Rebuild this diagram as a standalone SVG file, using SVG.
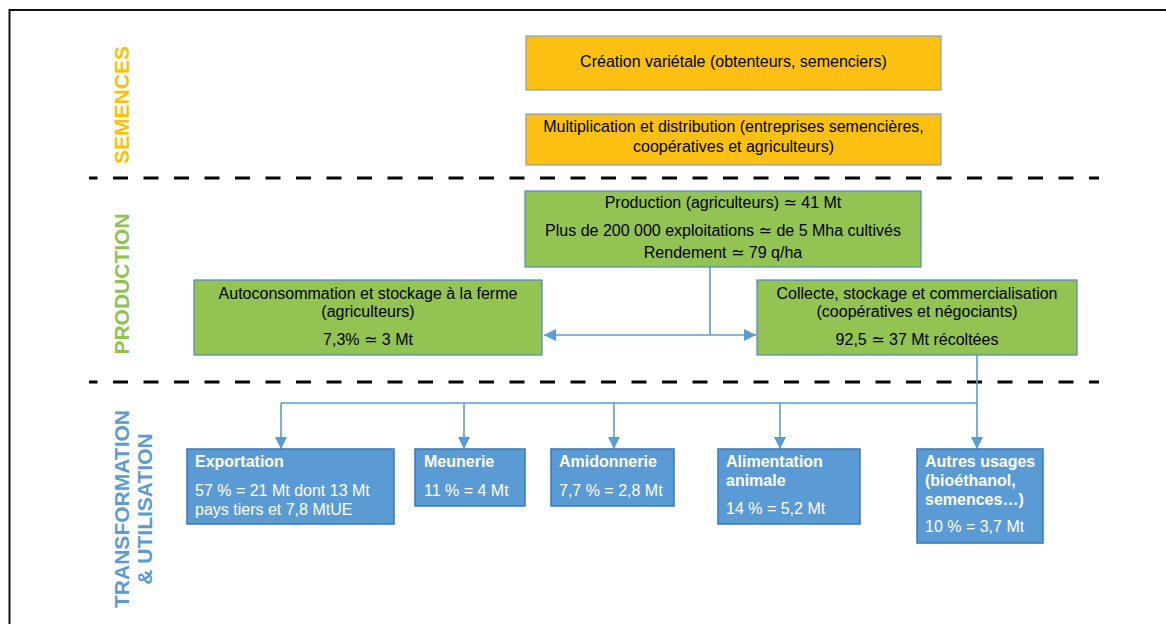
<svg xmlns="http://www.w3.org/2000/svg" width="1166" height="624" viewBox="0 0 1166 624">
<defs>
<style>
.t{font-family:"Liberation Sans",Arial,"DejaVu Sans",sans-serif;font-size:16px;fill:#000}
.c{text-anchor:middle}
.w{fill:#fff}
.b{font-weight:bold}
.lab{font-family:"Liberation Sans",Arial,sans-serif;font-size:21px;font-weight:bold;text-anchor:middle}
.or{fill:#FBC012;stroke:#7FA3C8;stroke-width:1.2}
.gr{fill:#93C353;stroke:#4F87C2;stroke-width:1.2}
.bl{fill:#5B9BD5;stroke:#3A78B8;stroke-width:1.5}
.dash{stroke:#000;stroke-width:3;stroke-dasharray:15 15.5;stroke-dashoffset:6.5;fill:none}
.con{stroke:#5B9BD5;stroke-width:1.6;fill:none}
</style>
<marker id="ar" viewBox="0 0 10 10" refX="10" refY="5" markerWidth="12" markerHeight="12" markerUnits="userSpaceOnUse" orient="auto">
<path d="M0,0 L10,5 L0,10 z" fill="#5B9BD5"/>
</marker>
</defs>
<rect x="0" y="0" width="1166" height="624" fill="#fff"/>
<rect x="9.5" y="10" width="1200" height="700" fill="none" stroke="#111" stroke-width="2"/>

<g id="labels">
<text class="lab" fill="#FFC000" transform="translate(129,105) rotate(-90)">SEMENCES</text>
<text class="lab" fill="#8DC450" transform="translate(128.5,284) rotate(-90)">PRODUCTION</text>
<text class="lab" fill="#5B9BD5" transform="translate(128.5,509) rotate(-90)">TRANSFORMATION</text>
<text class="lab" fill="#5B9BD5" transform="translate(151.5,509) rotate(-90)">&amp; UTILISATION</text>
</g>

<g id="separators">
<line class="dash" x1="89" y1="178" x2="1099" y2="178"/>
<line class="dash" x1="89" y1="382" x2="1099" y2="382"/>
</g>

<g id="connectors">
<path class="con" d="M710,267 V335"/>
<path class="con" d="M710,335 H544" marker-end="url(#ar)"/>
<path class="con" d="M710,335 H756" marker-end="url(#ar)"/>
<path class="con" d="M977,355 V449" marker-end="url(#ar)"/>
<path class="con" d="M281,403 H977"/>
<path class="con" d="M281,403 V449" marker-end="url(#ar)"/>
<path class="con" d="M464,403 V449" marker-end="url(#ar)"/>
<path class="con" d="M614,403 V449" marker-end="url(#ar)"/>
<path class="con" d="M780,403 V449" marker-end="url(#ar)"/>
</g>

<g id="creation">
<rect class="or" x="526" y="36" width="415" height="54"/>
<text class="t c" x="733.5" y="67">Création variétale (obtenteurs, semenciers)</text>
</g>
<g id="multiplication">
<rect class="or" x="526" y="114" width="415" height="51"/>
<text class="t c" x="733.5" y="132">Multiplication et distribution (entreprises semencières,</text>
<text class="t c" x="733.5" y="152">coopératives et agriculteurs)</text>
</g>

<g id="production">
<rect class="gr" x="525" y="191" width="396" height="76"/>
<text class="t c" x="723" y="208">Production (agriculteurs) ≃ 41 Mt</text>
<text class="t c" x="723" y="236">Plus de 200 000 exploitations ≃ de 5 Mha cultivés</text>
<text class="t c" x="723" y="258">Rendement ≃ 79 q/ha</text>
</g>
<g id="autoconsommation">
<rect class="gr" x="194" y="280" width="348" height="75"/>
<text class="t c" x="368" y="299">Autoconsommation et stockage à la ferme</text>
<text class="t c" x="368" y="317">(agriculteurs)</text>
<text class="t c" x="368" y="345">7,3% ≃ 3 Mt</text>
</g>
<g id="collecte">
<rect class="gr" x="757" y="280" width="320" height="75"/>
<text class="t c" x="917" y="299">Collecte, stockage et commercialisation</text>
<text class="t c" x="917" y="317">(coopératives et négociants)</text>
<text class="t c" x="917" y="345">92,5 ≃ 37 Mt récoltées</text>
</g>

<g id="exportation">
<rect class="bl" x="187" y="449" width="207" height="75"/>
<text class="t w b" x="195" y="467">Exportation</text>
<text class="t w" x="195" y="496">57 % = 21 Mt dont 13 Mt</text>
<text class="t w" x="195" y="515">pays tiers et 7,8 MtUE</text>
</g>
<g id="meunerie">
<rect class="bl" x="415" y="449" width="110" height="57"/>
<text class="t w b" x="424" y="467">Meunerie</text>
<text class="t w" x="424" y="496">11 % = 4 Mt</text>
</g>
<g id="amidonnerie">
<rect class="bl" x="551" y="449" width="123" height="57"/>
<text class="t w b" x="559" y="467">Amidonnerie</text>
<text class="t w" x="559" y="496">7,7 % = 2,8 Mt</text>
</g>
<g id="alimentation">
<rect class="bl" x="718" y="449" width="142" height="75"/>
<text class="t w b" x="726" y="467">Alimentation</text>
<text class="t w b" x="726" y="486">animale</text>
<text class="t w" x="726" y="514">14 % = 5,2 Mt</text>
</g>
<g id="autres">
<rect class="bl" x="917" y="449" width="126" height="94"/>
<text class="t w b" x="925" y="467">Autres usages</text>
<text class="t w b" x="925" y="486">(bioéthanol,</text>
<text class="t w b" x="925" y="505">semences…)</text>
<text class="t w" x="925" y="532">10 % = 3,7 Mt</text>
</g>
</svg>
